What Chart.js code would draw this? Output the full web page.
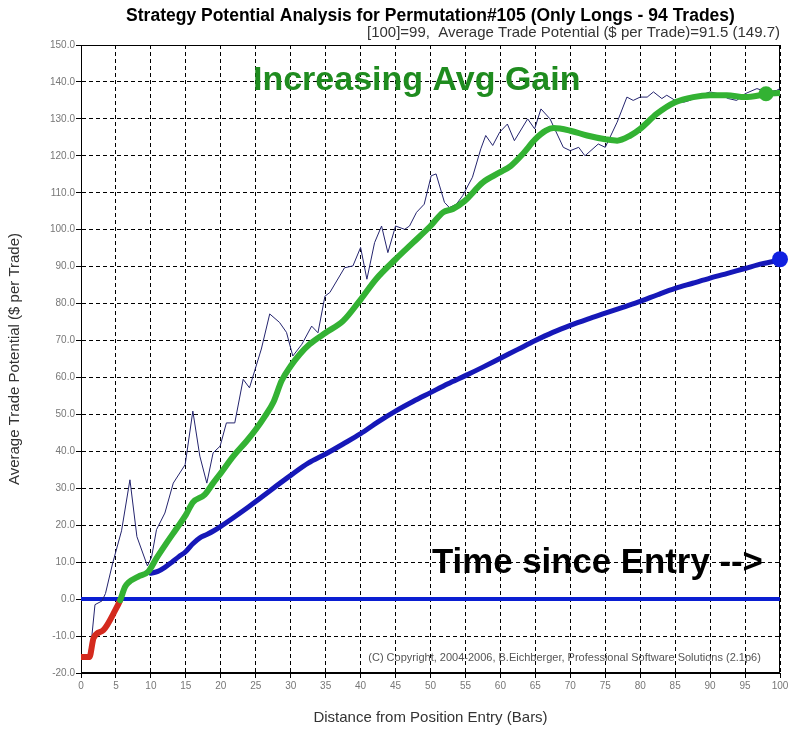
<!DOCTYPE html>
<html>
<head>
<meta charset="utf-8">
<script src="https://cdn.jsdelivr.net/npm/chart.js@4/dist/chart.umd.min.js"></script>
<style>
html,body{margin:0;padding:0;background:#fff;}
#wrap{width:788px;height:732px;position:relative;}
</style>
</head>
<body>
<div id="wrap"><canvas id="c" width="788" height="732"></canvas></div>
<script>
// ---------- text ----------
const titleText = "Strategy Potential Analysis for Permutation#105 (Only Longs - 94 Trades)";
const subtitleText = "[100]=99,  Average Trade Potential ($ per Trade)=91.5 (149.7)";
const xTitle = "Distance from Position Entry (Bars)";
const yTitle = "Average Trade Potential ($ per Trade)";
const noteGain = "Increasing Avg Gain";
const noteTime = "Time since Entry -->";
const noteCopy = "(C) Copyright, 2004-2006, B.Eichberger, Professional Software Solutions (2.1p6)";

// ---------- data ----------
// thin per-bar potential line
const thinX = [1,1.5,2,3,3.5,4.5,5.8,7,8,9.5,10.1,10.8,12,13.2,14.9,16,17,18,18.9,19.9,20.8,22,23.2,24.1,25.8,27,28.4,29.4,30.3,31.6,33,33.9,34.9,35.6,37.7,38.9,40,40.9,42,43,43.9,45,46.3,47,48,49.1,50.1,50.8,52,52.7,53.7,54.6,56,57.2,57.9,58.9,59.9,61,62,63.9,64.9,65.8,67.1,69,70,71.2,72.1,74,75,76.7,78.1,79,80,81,81.9,83.1,83.8,85,86.2,87.1,88.6,90,91.2,92.6,93.8,95,96.7,98.1,99.5,100];
const thinY = [-15.5,-11,-1.5,-0.5,1.5,9.5,18.5,32.3,16.9,9.0,11.4,18.8,23.3,31.4,36.4,50.9,38.7,31.4,39.6,41.4,47.7,47.7,59.5,57.2,67.7,77.2,74.9,72.2,65.8,69,73.9,72.1,82,83,89.7,90.2,95.2,86.6,96.5,101,93.8,101,100.1,101,104.7,106.9,114.6,115.1,107.4,106,106.9,109.2,114.2,121.9,125.5,122.8,126.4,128.6,124.1,130,127.3,132.7,130,122.3,121.4,122.3,120,123.2,122.3,129.1,135.9,135,135.9,135.9,137.3,135.5,136.4,135,134.5,135,136.4,137.3,136.8,135.5,135,136.8,138.2,137.3,137.7,138.2];

// smoothed average gain (red while negative, green after)
const gainX = [0,1.2,1.8,3.2,4.9,5.6,6.3,6.8,8.2,9.6,10.8,12.2,13.7,15,16,17.7,18.9,20,21.8,23.7,25,26.3,27.5,28.7,30,31.3,32.7,35,37.5,40,42.2,45,47.5,50,51.8,53.2,54.9,57.5,59.9,61.5,63.2,65,66.5,67.6,70,72.4,75,76.7,78.6,80,82.4,85,87.6,90,92.4,95,97.1,98,100];
const gainY = [-15.7,-15.7,-10.5,-8.4,-3.0,-0.3,3.3,4.5,6.1,7.4,11.1,15.1,19.2,22.8,26.2,28.3,31.4,34.1,38.7,42.8,45.9,49.5,53.2,59.1,63.1,66.3,69,72.1,75.3,81.1,86.6,92,96.5,101,104.7,105.6,107.8,112.8,115.5,117.3,120.5,124.5,126.8,127.5,126.8,125.5,124.5,124.1,125.5,127.3,131.4,134.5,135.9,136.4,136.4,135.9,136.4,136.8,137];

// average trade potential (blue)
const avgX = [10,11,12,13,14,15,16,17,18,19,20,22,24,25,27,30,32.5,35,37.5,40,42.5,45,47.5,50,52.5,55,57.5,60,62.5,65,67.5,70,72.5,75,77.5,80,82.5,85,87.5,90,92.5,95,97.5,100];
const avgY = [7.0,7.5,8.6,10.0,11.5,12.9,15.0,16.6,17.5,18.5,19.7,22.3,25.0,26.4,29.3,33.5,36.8,39.3,42,44.8,48,50.9,53.5,55.9,58.3,60.5,62.8,65.2,67.6,70,72.2,74.1,75.8,77.4,79,80.6,82.4,84.1,85.5,86.9,88.2,89.5,90.8,91.8];

// zero line and end markers
const zeroX = [0,100];
const zeroY = [0,0];
const gainEndX = [98];
const gainEndY = [136.8];
const avgEndX = [100];
const avgEndY = [92];

// axis ticks
const xTickStep = 5, xMin = 0, xMax = 100;
const yTickStep = 10, yMin = -20, yMax = 150;

// ---------- colors ----------
const GREEN = '#33b233';
const RED = '#d42a1e';
const BLUE_ZERO = '#0a1ed2';
const BLUE_AVG = '#1618b8';
const NAVY = '#24246e';

const FONT = '"Liberation Sans", Arial, Helvetica, sans-serif';
Chart.defaults.font.family = FONT;

const pts = (xs, ys) => xs.map((x, i) => ({x: x, y: ys[i]}));

const framePlugin = {
  id: 'frame',
  beforeDatasetsDraw(chart) {
    const {ctx, chartArea: a} = chart;
    ctx.save();
    ctx.strokeStyle = '#000';
    ctx.lineWidth = 1;
    const l = Math.round(a.left) + 0.5, t = Math.round(a.top) + 0.5;
    const r = Math.round(a.right) - 0.5, b = Math.round(a.bottom) - 0.5;
    ctx.strokeRect(l, t, r - l, b - t);
    ctx.restore();
  }
};

const notesPlugin = {
  id: 'notes',
  afterDatasetsDraw(chart) {
    const {ctx} = chart;
    const xs = chart.scales.x, ys = chart.scales.y;
    ctx.save();
    ctx.textAlign = 'left';
    ctx.textBaseline = 'middle';
    ctx.font = 'bold 34px ' + FONT;
    ctx.fillStyle = '#1f8c1f';
    ctx.fillText(noteGain, xs.getPixelForValue(24.6), ys.getPixelForValue(140.3), 330);
    ctx.fillStyle = '#000';
    ctx.font = 'bold 35px ' + FONT;
    ctx.fillText(noteTime, xs.getPixelForValue(50.2), ys.getPixelForValue(9.7), 331);
    ctx.font = '11px ' + FONT;
    ctx.fillStyle = '#555';
    ctx.fillText(noteCopy, xs.getPixelForValue(41.1), ys.getPixelForValue(-15.9), 398);
    ctx.restore();
  }
};

new Chart(document.getElementById('c'), {
  type: 'line',
  data: {
    datasets: [
      { label: 'avgEnd', data: pts(avgEndX, avgEndY), showLine: false, pointRadius: 8, pointBackgroundColor: '#1020e0', pointBorderWidth: 0, clip: false, order: 0 },
      { label: 'gainEnd', data: pts(gainEndX, gainEndY), showLine: false, pointRadius: 7.5, pointBackgroundColor: GREEN, pointBorderWidth: 0, clip: false, order: 1 },
      { label: 'gain', data: pts(gainX, gainY), borderColor: GREEN, borderWidth: 6, pointRadius: 0, cubicInterpolationMode: 'monotone', borderCapStyle: 'round', borderJoinStyle: 'round',
        segment: { borderColor: c => (c.p0.parsed.x < 5.5 ? RED : GREEN) }, order: 2 },
      { label: 'avg', data: pts(avgX, avgY), borderColor: BLUE_AVG, borderWidth: 5, pointRadius: 0, cubicInterpolationMode: 'monotone', borderCapStyle: 'round', order: 3 },
      { label: 'thin', data: pts(thinX, thinY), borderColor: NAVY, borderWidth: 1, pointRadius: 0, tension: 0, order: 4 },
      { label: 'zero', data: pts(zeroX, zeroY), borderColor: BLUE_ZERO, borderWidth: 4, pointRadius: 0, order: 5 }
    ]
  },
  options: {
    responsive: false,
    animation: false,
    events: [],
    layout: { padding: { left: 0, right: 8, top: 0, bottom: 0 } },
    plugins: {
      legend: { display: false },
      tooltip: { enabled: false },
      title: { display: true, text: titleText, fullSize: false, color: '#000',
               font: { size: 17.5, weight: 'bold', lineHeight: 1.0 }, padding: { top: 7.25, bottom: 0 } },
      subtitle: { display: true, text: subtitleText, fullSize: false, align: 'end', color: '#333',
                  font: { size: 15, lineHeight: 1.0 }, padding: { top: 0.75, bottom: 4.5 } }
    },
    scales: {
      x: {
        type: 'linear', min: xMin, max: xMax,
        afterFit: s => { s.height = 59; s.paddingRight = 0; s.paddingLeft = 0; },
        ticks: { stepSize: xTickStep, autoSkip: false, maxRotation: 0, color: '#777', font: { size: 10 }, padding: 2,
                 callback: v => String(v) },
        grid: { color: '#000', lineWidth: 1, drawTicks: true, tickLength: 5, tickColor: '#000' },
        border: { display: true, color: '#000', width: 1, dash: [4, 3] },
        title: { display: true, text: xTitle, color: '#333', font: { size: 15 }, padding: { top: 5, bottom: 5 } }
      },
      y: {
        type: 'linear', min: yMin, max: yMax,
        afterFit: s => { s.width = 81; },
        ticks: { stepSize: yTickStep, color: '#777', font: { size: 10 }, padding: 1,
                 callback: v => Number(v).toFixed(1) },
        grid: { color: '#000', lineWidth: 1, drawTicks: true, tickLength: 5, tickColor: '#000' },
        border: { display: true, color: '#000', width: 1, dash: [4, 3] },
        title: { display: true, text: yTitle, color: '#333', font: { size: 15 }, padding: { top: 6, bottom: 6 } }
      }
    }
  },
  plugins: [framePlugin, notesPlugin]
});
</script>
</body>
</html>
